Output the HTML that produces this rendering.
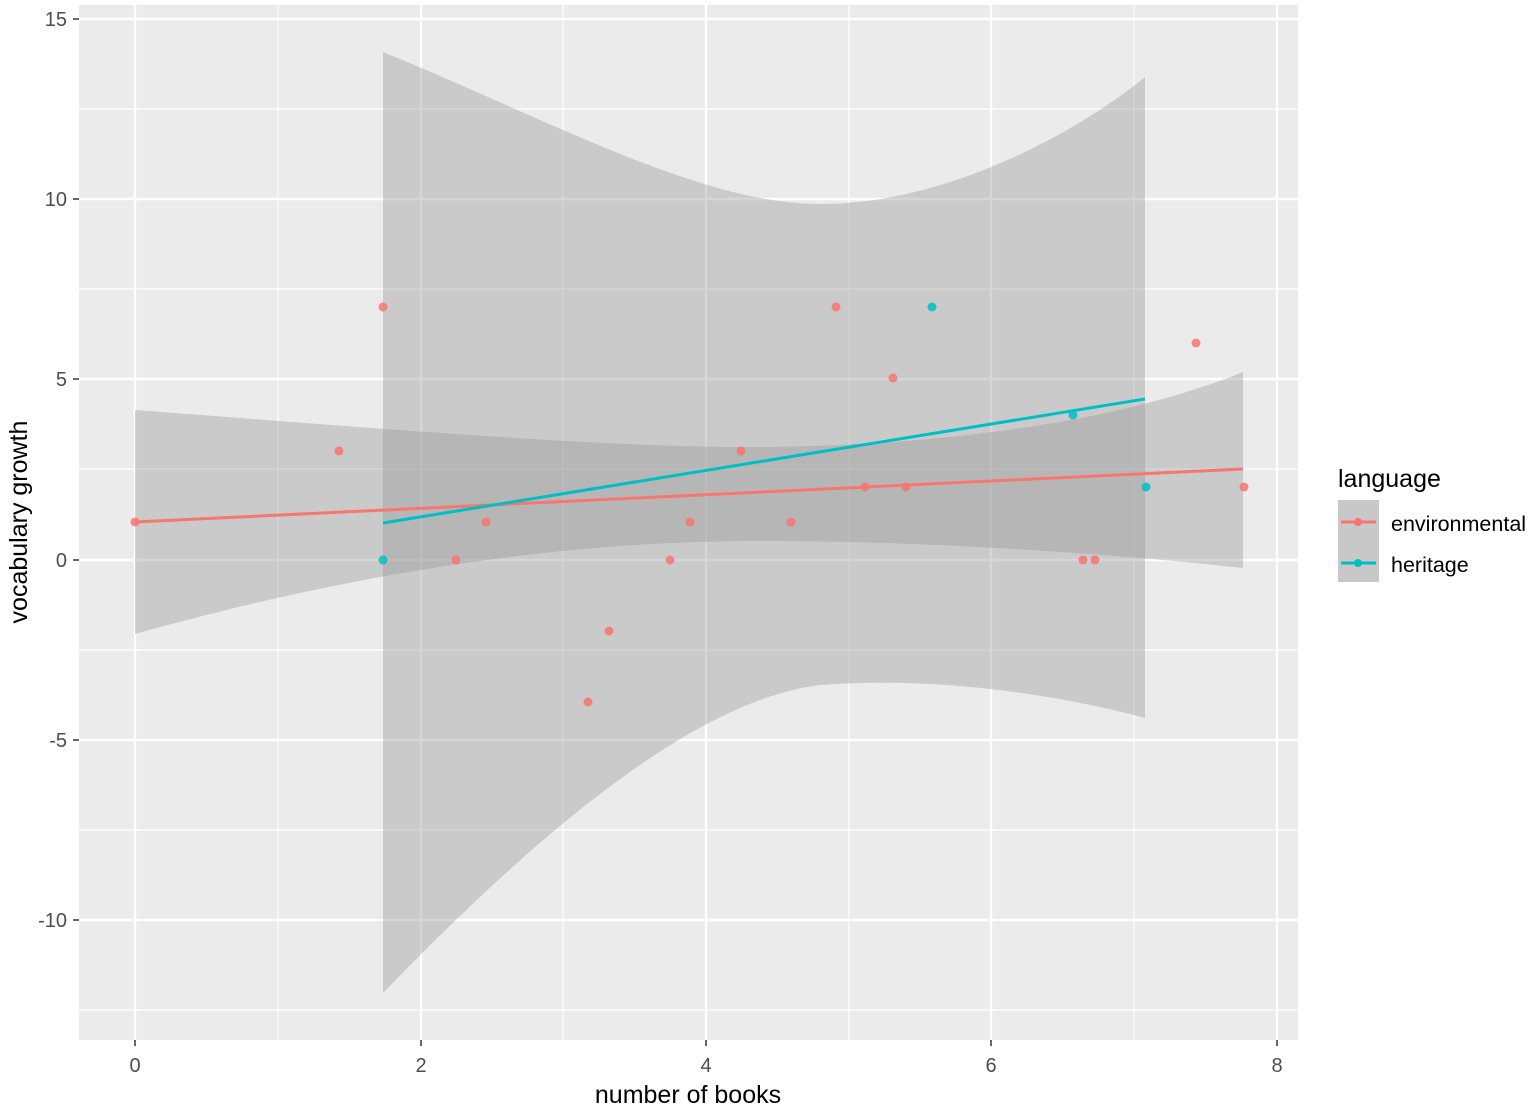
<!DOCTYPE html><html><head><style>body{margin:0;background:#fff}svg{display:block;font-family:"Liberation Sans",sans-serif}</style></head><body>
<svg width="1535" height="1109" viewBox="0 0 1535 1109">
<rect x="79" y="5" width="1219" height="1035" fill="#ebebeb"/>
<g stroke="#fff" stroke-width="1.2">
<line x1="278" y1="5" x2="278" y2="1040"/><line x1="563" y1="5" x2="563" y2="1040"/><line x1="849" y1="5" x2="849" y2="1040"/><line x1="1134" y1="5" x2="1134" y2="1040"/>
<line x1="79" y1="109" x2="1298" y2="109"/><line x1="79" y1="289" x2="1298" y2="289"/><line x1="79" y1="469" x2="1298" y2="469"/><line x1="79" y1="650" x2="1298" y2="650"/><line x1="79" y1="830" x2="1298" y2="830"/><line x1="79" y1="1010" x2="1298" y2="1010"/>
</g>
<g stroke="#fff" stroke-width="2.4">
<line x1="135" y1="5" x2="135" y2="1040"/><line x1="421" y1="5" x2="421" y2="1040"/><line x1="706" y1="5" x2="706" y2="1040"/><line x1="991" y1="5" x2="991" y2="1040"/><line x1="1277" y1="5" x2="1277" y2="1040"/>
<line x1="79" y1="19" x2="1298" y2="19"/><line x1="79" y1="199" x2="1298" y2="199"/><line x1="79" y1="379" x2="1298" y2="379"/><line x1="79" y1="560" x2="1298" y2="560"/><line x1="79" y1="740" x2="1298" y2="740"/><line x1="79" y1="920" x2="1298" y2="920"/>
</g>
<path d="M135,410 C400,430 600,447 750,447 C900,447 1100,430 1243,372 L1243,568 C1100,552 900,540 750,541 C600,542 400,560 135,634 Z" fill="#999" fill-opacity="0.4"/>
<path d="M383,52 C550,120 700,204 820,204 C950,204 1080,130 1145,77 L1145,718 C1080,700 950,675 820,685 C700,700 550,820 383,993 Z" fill="#999" fill-opacity="0.4"/>
<line x1="135" y1="522" x2="1243" y2="469" stroke="#F8766D" stroke-width="3"/>
<line x1="383" y1="523" x2="1145" y2="399" stroke="#00BFC4" stroke-width="3"/>
<g fill="#F8766D" fill-opacity="0.85">
<circle cx="135" cy="522" r="4.5"/><circle cx="339" cy="451" r="4.5"/><circle cx="383" cy="307" r="4.5"/><circle cx="456" cy="560" r="4.5"/><circle cx="486" cy="522" r="4.5"/><circle cx="588" cy="702" r="4.5"/><circle cx="609" cy="631" r="4.5"/><circle cx="670" cy="560" r="4.5"/><circle cx="690" cy="522" r="4.5"/><circle cx="741" cy="451" r="4.5"/><circle cx="791" cy="522" r="4.5"/><circle cx="836" cy="307" r="4.5"/><circle cx="865" cy="487" r="4.5"/><circle cx="893" cy="378" r="4.5"/><circle cx="906" cy="487" r="4.5"/><circle cx="1083" cy="560" r="4.5"/><circle cx="1095" cy="560" r="4.5"/><circle cx="1196" cy="343" r="4.5"/><circle cx="1244" cy="487" r="4.5"/>
</g>
<g fill="#00BFC4" fill-opacity="0.85">
<circle cx="383" cy="560" r="4.5"/><circle cx="932" cy="307" r="4.5"/><circle cx="1073" cy="415" r="4.5"/><circle cx="1146" cy="487" r="4.5"/>
</g>
<g stroke="#333" stroke-width="1.5">
<line x1="73" y1="19" x2="79" y2="19"/><line x1="73" y1="199" x2="79" y2="199"/><line x1="73" y1="379" x2="79" y2="379"/><line x1="73" y1="560" x2="79" y2="560"/><line x1="73" y1="740" x2="79" y2="740"/><line x1="73" y1="920" x2="79" y2="920"/>
<line x1="135" y1="1040" x2="135" y2="1046"/><line x1="421" y1="1040" x2="421" y2="1046"/><line x1="706" y1="1040" x2="706" y2="1046"/><line x1="991" y1="1040" x2="991" y2="1046"/><line x1="1277" y1="1040" x2="1277" y2="1046"/>
</g>
<g fill="#4d4d4d" font-size="20" text-anchor="end">
<text x="67" y="26">15</text><text x="67" y="206">10</text><text x="67" y="386">5</text><text x="67" y="567">0</text><text x="67" y="747">-5</text><text x="67" y="927">-10</text>
</g>
<g fill="#4d4d4d" font-size="20" text-anchor="middle">
<text x="135" y="1072">0</text><text x="421" y="1072">2</text><text x="706" y="1072">4</text><text x="991" y="1072">6</text><text x="1277" y="1072">8</text>
</g>
<text x="688" y="1103" font-size="25" text-anchor="middle" fill="#000">number of books</text>
<text transform="translate(27,522) rotate(-90)" font-size="25" text-anchor="middle" fill="#000">vocabulary growth</text>
<text x="1338" y="487" font-size="25" fill="#000">language</text>
<rect x="1338" y="500" width="41" height="82" fill="#c8c8c8"/>
<line x1="1341" y1="522" x2="1376" y2="522" stroke="#F8766D" stroke-width="3"/><circle cx="1358" cy="522" r="4" fill="#F8766D"/>
<line x1="1341" y1="563" x2="1376" y2="563" stroke="#00BFC4" stroke-width="3"/><circle cx="1358" cy="563" r="4" fill="#00BFC4"/>
<text x="1391" y="531" font-size="21.5" fill="#000">environmental</text>
<text x="1391" y="572" font-size="21.5" fill="#000">heritage</text>
</svg></body></html>
